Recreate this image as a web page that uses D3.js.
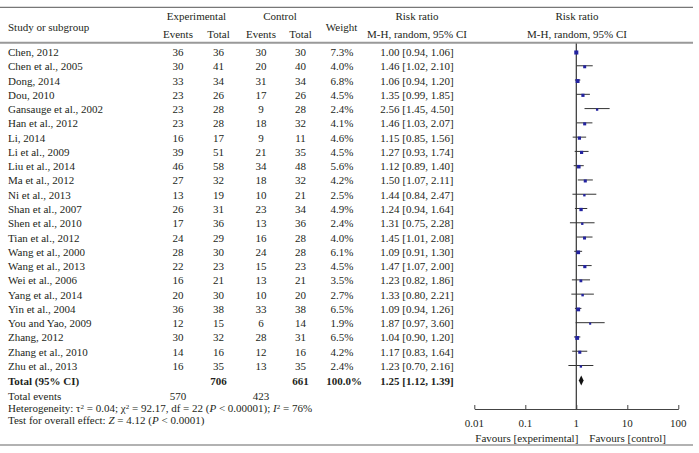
<!DOCTYPE html>
<html><head><meta charset="utf-8">
<script src="https://cdn.jsdelivr.net/npm/d3@7"></script>
<style>
html,body{margin:0;padding:0;background:#fff;}
svg text{font-family:"Liberation Serif","Times New Roman",serif;font-size:11px;fill:#231f20;}
</style></head>
<body><svg id="c" width="699" height="453"></svg>
<script>
const studies = ["Chen, 2012","Chen et al., 2005","Dong, 2014","Dou, 2010","Gansauge et al., 2002","Han et al., 2012","Li, 2014","Li et al., 2009","Liu et al., 2014","Ma et al., 2012","Ni et al., 2013","Shan et al., 2007","Shen et al., 2010","Tian et al., 2012","Wang et al., 2000","Wang et al., 2013","Wei et al., 2006","Yang et al., 2014","Yin et al., 2004","You and Yao, 2009","Zhang, 2012","Zhang et al., 2010","Zhu et al., 2013"];
const expEvents = [36,30,33,23,23,23,16,39,46,27,13,26,17,24,28,22,16,20,36,12,30,14,16];
const expTotal  = [36,41,34,26,28,28,17,51,58,32,19,31,36,29,30,23,21,30,38,15,32,16,35];
const ctrlEvents= [30,20,31,17,9,18,9,21,34,18,10,23,13,16,24,15,13,10,33,6,28,12,13];
const ctrlTotal = [30,40,34,26,28,32,11,35,48,32,21,34,36,28,28,23,21,20,38,14,31,16,35];
const weights   = [7.3,4.0,6.8,4.5,2.4,4.1,4.6,4.5,5.6,4.2,2.5,4.9,2.4,4.0,6.1,4.5,3.5,2.7,6.5,1.9,6.5,4.2,2.4];
const rr        = [1.00,1.46,1.06,1.35,2.56,1.46,1.15,1.27,1.12,1.50,1.44,1.24,1.31,1.45,1.09,1.47,1.23,1.33,1.09,1.87,1.04,1.17,1.23];
const lo        = [0.94,1.02,0.94,0.99,1.45,1.03,0.85,0.93,0.89,1.07,0.84,0.94,0.75,1.01,0.91,1.07,0.82,0.80,0.94,0.97,0.90,0.83,0.70];
const hi        = [1.06,2.10,1.20,1.85,4.50,2.07,1.56,1.74,1.40,2.11,2.47,1.64,2.28,2.08,1.30,2.00,1.86,2.21,1.26,3.60,1.20,1.64,2.16];
const total = {expTotal:706, ctrlTotal:661, weight:"100.0%", rr:1.25, lo:1.12, hi:1.39, expEvents:570, ctrlEvents:423};
const axisTicks = [0.01,0.1,1,10,100];
const axisTickLabels = ["0.01","0.1","1","10","100"];

const svg = d3.select("#c");
const y = d3.scalePoint().domain(studies).range([52, 366]);
const x = d3.scaleLog().domain([0.01,100]).range([474.3,678.3]);
const colX = {study:8, expE:178, expT:218.5, ctrlE:261, ctrlT:300.5, weight:342, rr:417, plot:577};
const TXT = 4; // baseline offset from visual centre

// rules
svg.append("line").attr("x1",0).attr("x2",693).attr("y1",7.3).attr("y2",7.3).attr("stroke","#555").attr("stroke-width",1);
svg.append("line").attr("x1",0).attr("x2",693).attr("y1",42.7).attr("y2",42.7).attr("stroke","#999").attr("stroke-width",2);
svg.append("line").attr("x1",0).attr("x2",693).attr("y1",445).attr("y2",445).attr("stroke","#999").attr("stroke-width",1.5);

function t(xp, yc, str, anchor, bold){
  return svg.append("text").attr("x",xp).attr("y",yc+TXT).attr("text-anchor",anchor||"middle")
    .style("font-weight",bold?"bold":null).text(str);
}
// headers
t(colX.study,26.7,"Study or subgroup","start");
t(196.5,16,"Experimental");
t(colX.expE,33.7,"Events"); t(colX.expT,33.7,"Total");
t(280,16,"Control");
t(colX.ctrlE,33.7,"Events"); t(colX.ctrlT,33.7,"Total");
t(341.5,26.7,"Weight");
t(colX.rr,16,"Risk ratio"); t(colX.rr,33.7,"M-H, random, 95% CI");
t(colX.plot,16,"Risk ratio"); t(colX.plot,33.7,"M-H, random, 95% CI");

// rows
studies.forEach((s,i)=>{
  const yc = y(s);
  t(colX.study,yc,s,"start");
  t(colX.expE,yc,expEvents[i]); t(colX.expT,yc,expTotal[i]);
  t(colX.ctrlE,yc,ctrlEvents[i]); t(colX.ctrlT,yc,ctrlTotal[i]);
  t(colX.weight,yc,weights[i].toFixed(1)+"%");
  t(colX.rr,yc,`${rr[i].toFixed(2)} [${lo[i].toFixed(2)}, ${hi[i].toFixed(2)}]`);
});
const yTot = 380.5;
t(colX.study,yTot,"Total (95% CI)","start",true);
t(colX.expT,yTot,total.expTotal,"middle",true);
t(colX.ctrlT,yTot,total.ctrlTotal,"middle",true);
t(colX.weight+2,yTot,total.weight,"middle",true);
t(colX.rr,yTot,`${total.rr.toFixed(2)} [${total.lo.toFixed(2)}, ${total.hi.toFixed(2)}]`,"middle",true);
t(colX.study,396,"Total events","start");
t(colX.expE,396,total.expEvents); t(colX.ctrlE,396,total.ctrlEvents);

// heterogeneity line
const h = svg.append("text").attr("x",colX.study).attr("y",408+TXT);
h.append("tspan").text("Heterogeneity: τ");
h.append("tspan").attr("dy",-3.5).style("font-size","7px").text("2");
h.append("tspan").attr("dy",3.5).text(" = 0.04; χ");
h.append("tspan").attr("dy",-3.5).style("font-size","7px").text("2");
h.append("tspan").attr("dy",3.5).text(" = 92.17, df = 22 (");
h.append("tspan").style("font-style","italic").text("P");
h.append("tspan").text(" < 0.00001); ");
h.append("tspan").style("font-style","italic").text("I");
h.append("tspan").attr("dy",-3.5).style("font-size","7px").text("2");
h.append("tspan").attr("dy",3.5).text(" = 76%");
const z = svg.append("text").attr("x",colX.study).attr("y",420+TXT);
z.append("tspan").text("Test for overall effect: ");
z.append("tspan").style("font-style","italic").text("Z");
z.append("tspan").text(" = 4.12 (");
z.append("tspan").style("font-style","italic").text("P");
z.append("tspan").text(" < 0.0001)");

// forest plot
const axisY = 409;
svg.append("line").attr("x1",x(1)).attr("x2",x(1)).attr("y1",43.5).attr("y2",axisY).attr("stroke","#333").attr("stroke-width",1.2);
const g = svg.append("g");
g.selectAll("line.ci").data(studies).join("line").attr("class","ci")
  .attr("x1",(d,i)=>x(lo[i])).attr("x2",(d,i)=>x(hi[i]))
  .attr("y1",d=>y(d)-0.5).attr("y2",d=>y(d)-0.5).attr("stroke","#333").attr("stroke-width",1);
g.selectAll("rect.m").data(studies).join("rect").attr("class","m")
  .attr("x",(d,i)=>x(rr[i])-0.75*Math.sqrt(weights[i]))
  .attr("y",(d,i)=>y(d)+0.5-0.75*Math.sqrt(weights[i]))
  .attr("width",(d,i)=>1.5*Math.sqrt(weights[i]))
  .attr("height",(d,i)=>1.5*Math.sqrt(weights[i]))
  .attr("fill","#2323a0");
// diamond
svg.append("path").attr("d",`M${x(total.lo)},${yTot}L${x(total.rr)},${yTot-5}L${x(total.hi)},${yTot}L${x(total.rr)},${yTot+5}Z`).attr("fill","#111");

// axis
const ax = svg.append("g").attr("transform",`translate(0,${axisY})`)
  .call(d3.axisTop(x).tickValues(axisTicks).tickFormat("").tickSize(4).tickSizeOuter(0));
ax.select(".domain").attr("stroke","#444").attr("stroke-width",1.2);
ax.selectAll(".tick line").attr("stroke","#444");
axisTicks.forEach((v,i)=>t(x(v),422.5,axisTickLabels[i]));
t(x(1)+2,437.7,"Favours [experimental]","end");
t(x(1)+13,437.7,"Favours [control]","start");
</script></body></html>
